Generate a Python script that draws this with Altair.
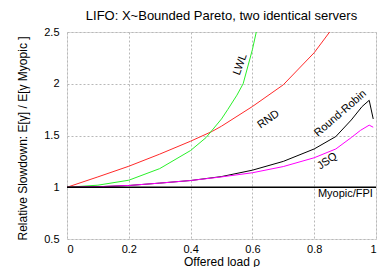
import altair as alt
import pandas as pd

# ---- data ----
rnd_x = [0.0, 0.1, 0.2, 0.3, 0.4, 0.47, 0.5, 0.6, 0.7, 0.8, 0.85, 0.9]
rnd_y = [1.0, 1.10, 1.203, 1.32, 1.445, 1.54, 1.59, 1.78, 1.99, 2.30, 2.5, 2.72]

lwl_x = [0.0, 0.1, 0.2, 0.3, 0.4, 0.45, 0.5, 0.52, 0.55, 0.57, 0.6, 0.62]
lwl_y = [1.0, 1.02, 1.068, 1.18, 1.355, 1.48, 1.66, 1.75, 1.89, 2.0, 2.33, 2.6]

rr_x = [0.0, 0.1, 0.2, 0.3, 0.4, 0.5, 0.6, 0.7, 0.8, 0.87, 0.92, 0.955, 0.978, 0.991]
rr_y = [1.0, 1.005, 1.017, 1.04, 1.065, 1.103, 1.165, 1.25, 1.37, 1.49, 1.65, 1.78, 1.84, 1.66]

jsq_x = [0.0, 0.1, 0.2, 0.3, 0.4, 0.5, 0.6, 0.7, 0.8, 0.87, 0.92, 0.95, 0.978, 0.991]
jsq_y = [1.0, 1.005, 1.017, 1.04, 1.065, 1.10, 1.14, 1.20, 1.285, 1.37, 1.48, 1.55, 1.60, 1.58]

myo_x = [0.0, 1.0]
myo_y = [1.0, 1.0]

series = ["RND", "LWL", "Round-Robin", "JSQ", "Myopic/FPI"]
colors = ["#ff2a2a", "#2af02a", "#000000", "#ff00ff", "#000000"]

label_text = ["LWL", "RND", "Round-Robin", "JSQ", "Myopic/FPI"]
label_x = [0.561, 0.652, 0.885, 0.842, 0.901]
label_y = [2.187, 1.655, 1.712, 1.251, 0.939]
label_angle = [290, 325, 319, 325, 0]

x_ticks = [0, 0.2, 0.4, 0.6, 0.8, 1]
y_ticks = [0.5, 1, 1.5, 2, 2.5]

# ---- tables ----
rows = []
for name, xs, ys in [("RND", rnd_x, rnd_y), ("LWL", lwl_x, lwl_y),
                     ("Round-Robin", rr_x, rr_y), ("JSQ", jsq_x, jsq_y),
                     ("Myopic/FPI", myo_x, myo_y)]:
    for i, (a, b) in enumerate(zip(xs, ys)):
        rows.append({"series": name, "rho": a, "val": b, "order": i})
df = pd.DataFrame(rows)
labels = pd.DataFrame({"text": label_text, "rho": label_x, "val": label_y,
                       "angle": label_angle})

FONT = "Liberation Sans"

xscale = alt.Scale(domain=[0, 1], nice=False)
yscale = alt.Scale(domain=[0.5, 2.5], nice=False)

xaxis = alt.Axis(values=x_ticks, format="~g", title="Offered load ρ",
                 grid=True, gridDash=[2, 2], gridColor="#b8b8b8",
                 ticks=False, labelPadding=4, domain=False,
                 labelFontSize=11, titleFontSize=12, titleFontWeight="normal",
                 labelColor="#000", titleColor="#000", titlePadding=2,
                 labelFont=FONT, titleFont=FONT)
yaxis = alt.Axis(values=y_ticks, format="~g",
                 title="Relative Slowdown: E[γ] / E[γ Myopic ]",
                 grid=True, gridDash=[2, 2], gridColor="#b8b8b8",
                 ticks=False, labelPadding=8, domain=False,
                 labelFontSize=11, titleFontSize=12, titleFontWeight="normal",
                 labelColor="#000", titleColor="#000",
                 titleX=-45, titleY=106, titleBaseline="middle",
                 titleAlign="center", titleAngle=270,
                 labelFont=FONT, titleFont=FONT)

base_lines = alt.Chart(df[df.series != "Myopic/FPI"]).mark_line(
    strokeWidth=1, clip=True).encode(
    x=alt.X("rho:Q", scale=xscale, axis=xaxis),
    y=alt.Y("val:Q", scale=yscale, axis=yaxis),
    color=alt.Color("series:N", scale=alt.Scale(domain=series, range=colors),
                    legend=None),
    order="order:O",
    detail="series:N",
)

myo_line = alt.Chart(df[df.series == "Myopic/FPI"]).mark_line(
    strokeWidth=1.6, color="#000000", clip=True).encode(
    x=alt.X("rho:Q", scale=xscale),
    y=alt.Y("val:Q", scale=yscale),
    order="order:O",
)

text = alt.Chart(labels).mark_text(fontSize=11, font=FONT, color="#000",
                                   align="center", baseline="middle").encode(
    x=alt.X("rho:Q", scale=xscale),
    y=alt.Y("val:Q", scale=yscale),
    text="text:N",
    angle=alt.Angle("angle:Q", scale=None),
)

chart = alt.layer(base_lines, myo_line, text).properties(
    width=309, height=207,
    title=alt.TitleParams("LIFO: X~Bounded Pareto, two identical servers",
                          fontSize=13, font=FONT, fontWeight="normal",
                          color="#000", anchor="middle", offset=3),
    autosize=alt.AutoSizeParams(type="none"),
    padding={"left": 59, "top": 24, "right": 8, "bottom": 28},
).configure_view(stroke="#000", strokeWidth=1).configure(background="white")

chart.save("out.html", embed_options={"renderer": "svg", "actions": False})
